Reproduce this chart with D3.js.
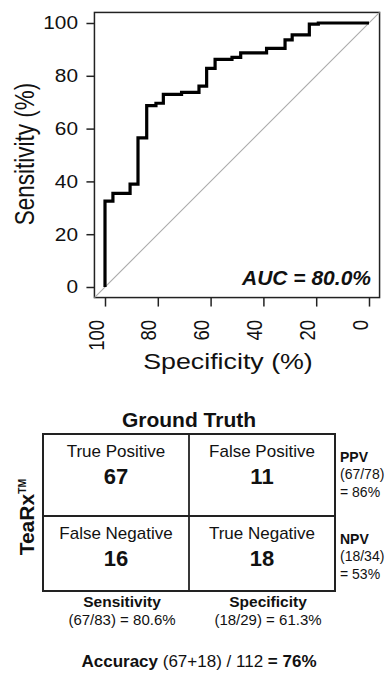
<!DOCTYPE html>
<html>
<head>
<meta charset="utf-8">
<script src="https://cdn.jsdelivr.net/npm/d3@7"></script>
<style>
  body { margin: 0; background: #fff; }
  svg { display: block; font-family: "Liberation Sans", Arial, sans-serif; }
</style>
</head>
<body>
<script>
// ROC curve corner points (step curve)
const specificity = [100, 97.0, 90.5, 87.5, 84.2, 80.7, 77.9, 71.0, 64.4, 61.5, 58.3, 51.9, 48.6, 38.8, 31.8, 29.1, 22.6, 19.2, 0];
const sensitivity = [0, 32.5, 35.5, 39.0, 56.5, 68.7, 69.6, 73.0, 73.7, 76.1, 82.8, 86.2, 87.0, 88.7, 90.4, 93.6, 95.5, 99.6, 100];
const axisTicks = [0, 20, 40, 60, 80, 100];
const aucLabel = "AUC = 80.0%";

// confusion matrix
const matrixCols = ["pos", "neg"];
const matrixRows = ["pred", "other"];
const cellLabels = [["True Positive", "False Positive"], ["False Negative", "True Negative"]];
const cellCounts = [[67, 11], [16, 18]];
const rowStats = [["PPV", "(67/78)", "= 86%"], ["NPV", "(18/34)", "= 53%"]];
const colStats = [["Sensitivity", "(67/83) = 80.6%"], ["Specificity", "(18/29) = 61.3%"]];

const W = 389, H = 673;
const svg = d3.select("body").append("svg")
    .attr("width", W)
    .attr("height", H);

// ----- ROC panel -----
const x = d3.scaleLinear().domain([100, 0]).range([105, 369]);
const y = d3.scaleLinear().domain([0, 100]).range([287, 23]);
const stretch = 1.19; // the R text in the picture is wider than tall

const roc = svg.append("g");

// plot box (R extends the range by 4%)
const [bx0, bx1] = [x(104), x(-4)];
const [by0, by1] = [y(104), y(-4)];
roc.append("rect")
    .attr("x", bx0).attr("y", by0)
    .attr("width", bx1 - bx0).attr("height", by1 - by0)
    .attr("fill", "none")
    .attr("stroke", "#222")
    .attr("stroke-width", 1.5);

// chance diagonal
roc.append("line")
    .attr("x1", x(104)).attr("y1", y(-4))
    .attr("x2", x(-4)).attr("y2", y(104))
    .attr("stroke", "#aaa")
    .attr("stroke-width", 1.1);

// y axis
const leftAxis = d3.axisLeft(y).tickValues(axisTicks).tickSize(8).tickFormat("");
roc.append("g")
    .attr("transform", `translate(${bx0}, 0)`)
    .call(leftAxis)
    .call(g => g.select(".domain").remove())
    .call(g => g.selectAll("line").attr("stroke", "#222").attr("stroke-width", 1.5));
roc.selectAll("text.ytick")
    .data(axisTicks)
    .enter()
    .append("text")
        .attr("class", "ytick")
        .attr("transform", d => `translate(78, ${y(d) + 6.3}) scale(${stretch}, 1)`)
        .attr("text-anchor", "end")
        .style("font-size", "17.5px")
        .attr("fill", "#111")
        .text(d => d);

// x axis
const bottomAxis = d3.axisBottom(x).tickValues(axisTicks).tickSize(9).tickFormat("");
roc.append("g")
    .attr("transform", `translate(0, ${by1})`)
    .call(bottomAxis)
    .call(g => g.select(".domain").remove())
    .call(g => g.selectAll("line").attr("stroke", "#222").attr("stroke-width", 1.5));
roc.selectAll("text.xtick")
    .data(axisTicks)
    .enter()
    .append("text")
        .attr("class", "xtick")
        .attr("transform", d => `translate(${x(d) - 1.5}, 320) rotate(-90) scale(1, ${stretch})`)
        .attr("text-anchor", "end")
        .style("font-size", "18.5px")
        .attr("fill", "#111")
        .text(d => d);

// axis titles
roc.append("text")
    .attr("transform", `translate(228, 369) scale(${stretch}, 1)`)
    .attr("text-anchor", "middle")
    .style("font-size", "22.5px")
    .attr("fill", "#111")
    .text("Specificity (%)");
roc.append("text")
    .attr("transform", `translate(34, 154) rotate(-90) scale(1, ${stretch})`)
    .attr("text-anchor", "middle")
    .style("font-size", "22.5px")
    .attr("fill", "#111")
    .text("Sensitivity (%)");

// curve
const line = d3.line()
    .x(i => x(specificity[i]))
    .y(i => y(sensitivity[i]))
    .curve(d3.curveStepBefore);
roc.append("path")
    .datum(d3.range(specificity.length))
    .attr("d", line)
    .attr("fill", "none")
    .attr("stroke", "#000")
    .attr("stroke-width", 3.2);

roc.append("text")
    .attr("x", 371).attr("y", 285)
    .attr("text-anchor", "end")
    .style("font-size", "21px")
    .style("font-weight", "bold")
    .style("font-style", "italic")
    .attr("fill", "#111")
    .text(aucLabel);

// ----- confusion matrix -----
const mx = d3.scaleBand().domain(matrixCols).range([43, 335]);
const rowTop = d3.scaleOrdinal().domain(matrixRows).range([434, 516]);
const matrixBottom = 591;
const mat = svg.append("g");

mat.append("text")
    .attr("x", 189).attr("y", 426.5)
    .attr("text-anchor", "middle")
    .style("font-size", "21px")
    .style("font-weight", "bold")
    .attr("fill", "#111")
    .text("Ground Truth");

const rotLabel = mat.append("text")
    .attr("transform", "translate(34, 517) rotate(-90)")
    .attr("text-anchor", "middle")
    .style("font-size", "21px")
    .style("font-weight", "bold")
    .attr("fill", "#111");
rotLabel.append("tspan").text("TeaRx");
rotLabel.append("tspan").attr("dy", -8).style("font-size", "10.5px").text("TM");

mat.append("rect")
    .attr("x", mx.range()[0]).attr("y", rowTop("pred"))
    .attr("width", mx.range()[1] - mx.range()[0])
    .attr("height", matrixBottom - rowTop("pred"))
    .attr("fill", "none")
    .attr("stroke", "#222")
    .attr("stroke-width", 2);
mat.append("line")
    .attr("x1", mx("neg")).attr("x2", mx("neg"))
    .attr("y1", rowTop("pred")).attr("y2", matrixBottom)
    .attr("stroke", "#222").attr("stroke-width", 1.8);
mat.append("line")
    .attr("x1", mx.range()[0]).attr("x2", mx.range()[1])
    .attr("y1", rowTop("other")).attr("y2", rowTop("other"))
    .attr("stroke", "#222").attr("stroke-width", 1.8);

matrixRows.forEach((r, ri) => {
    matrixCols.forEach((c, ci) => {
        const cx = mx(c) + mx.bandwidth() / 2;
        mat.append("text")
            .attr("x", cx).attr("y", rowTop(r) + 22.5)
            .attr("text-anchor", "middle")
            .style("font-size", "17px")
            .attr("fill", "#111")
            .text(cellLabels[ri][ci]);
        mat.append("text")
            .attr("x", cx).attr("y", rowTop(r) + 49.5)
            .attr("text-anchor", "middle")
            .style("font-size", "22px")
            .style("font-weight", "bold")
            .attr("fill", "#111")
            .text(cellCounts[ri][ci]);
    });
    // PPV / NPV at the right
    rowStats[ri].forEach((t, k) => {
        mat.append("text")
            .attr("x", 340).attr("y", rowTop(r) + 27.5 + k * 17.5)
            .style("font-size", "14px")
            .style("font-weight", k === 0 ? "bold" : "normal")
            .attr("fill", "#111")
            .text(t);
    });
});

matrixCols.forEach((c, ci) => {
    const cx = mx(c) + mx.bandwidth() / 2 + 6;
    mat.append("text")
        .attr("x", cx).attr("y", 607)
        .attr("text-anchor", "middle")
        .style("font-size", "15.5px")
        .style("font-weight", "bold")
        .attr("fill", "#111")
        .text(colStats[ci][0]);
    mat.append("text")
        .attr("x", cx).attr("y", 625)
        .attr("text-anchor", "middle")
        .style("font-size", "15px")
        .attr("fill", "#111")
        .text(colStats[ci][1]);
});

const acc = mat.append("text")
    .attr("x", 199).attr("y", 667)
    .attr("text-anchor", "middle")
    .style("font-size", "17px")
    .attr("fill", "#111");
acc.append("tspan").style("font-weight", "bold").text("Accuracy ");
acc.append("tspan").text("(67+18) / 112 ");
acc.append("tspan").style("font-weight", "bold").text("= 76%");
</script>
</body>
</html>
